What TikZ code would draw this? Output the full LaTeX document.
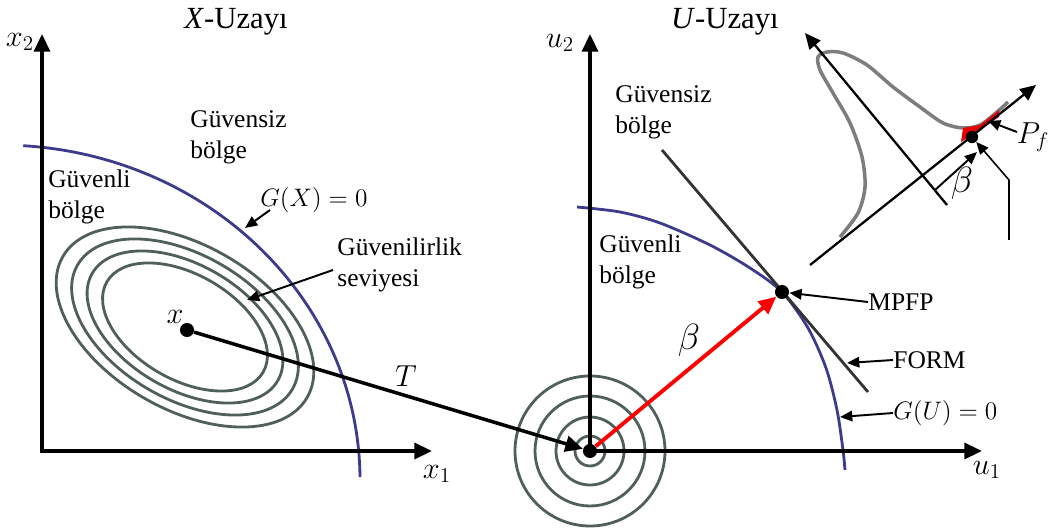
\documentclass[tikz,border=0pt]{standalone}
\usepackage{fontspec}
\setmainfont{Liberation Serif}
\usepackage{amsmath}
\usetikzlibrary{arrows.meta}
\definecolor{limitblue}{RGB}{62,58,140}
\definecolor{levelgray}{RGB}{80,95,90}
\definecolor{pdfgray}{RGB}{125,125,125}

\begin{document}
\begin{tikzpicture}[
  font=\fontsize{14.5}{17.5}\selectfont,
  axis/.style={line width=2pt,{Triangle[length=10pt,width=9pt]}-{Triangle[length=10pt,width=9pt]}},
  pointer/.style={line width=1.1pt,-{Triangle[length=7pt,width=6pt]}},
  limit/.style={line width=1.6pt,limitblue},
  level/.style={line width=1.6pt,levelgray},
  dot/.style={circle,fill=black,inner sep=0pt,minimum size=8pt},
  txt/.style={align=left,anchor=west,inner sep=0pt},
  title/.style={font=\fontsize{17.5}{20}\selectfont},
  sym/.style={font=\fontsize{17}{20}\selectfont},
  bigsym/.style={font=\fontsize{20}{24}\selectfont}
]
\useasboundingbox (0,0) rectangle (21.1,10.62);

% X-space
\coordinate (o1) at (0.84,1.6);
\foreach \s in {1,0.88,0.76,0.64}{
  \draw[level,rotate around={-30:(3.7,4.08)}] (3.7,4.08) ellipse ({2.82*\s} and {1.64*\s});
}
\draw[limit] (0.465,7.706) arc[start angle=86.3,end angle=0.5,x radius=7.2,y radius=6.7];
\draw[axis] (0.84,9.94) -- (o1) -- (8.64,1.6);
\node[sym] (x2lab) at (0.4,9.78) {$x_2$};
\node[sym] (x1lab) at (8.74,1.14) {$x_1$};
\node[title] (xtitle) at (4.72,10.18) {\textit{X}-Uzayı};
\node[txt] (unsafex) at (3.8,7.88) {Güvensiz\\bölge};
\node[txt] (safex) at (0.96,6.68) {Güvenli\\bölge};
\node[txt] (gxlab) at (5.2,6.62) {$G(X)=0$};
\draw[pointer] (5.4,6.42) -- (4.9,6.06);
\node[txt] (levlab) at (6.74,5.32) {Güvenilirlik\\seviyesi};
\draw[pointer] (6.66,5.22) -- (4.94,4.62);
\node[dot] (xc) at (3.74,4.02) {};
\node[sym] (xlab) at (3.5,4.28) {$x$};

% U-space
\node[dot] (o2) at (11.8,1.6) {};
\foreach \r in {1.5,1.1,0.68,0.3}{
  \draw[level] (o2.center) circle (\r);
}
\draw[limit] plot[smooth] coordinates {(11.54,6.48) (12.4,6.38) (13.2,6.16) (14.2,5.72) (15.0,5.26) (15.64,4.78) (16.16,4.06) (16.52,3.26) (16.74,2.42) (16.86,1.62) (16.9,1.22)};
\draw[line width=1.6pt,black!80] (13.24,7.62) -- (17.36,2.78);
\draw[axis] (11.8,9.94) -- (o2.center) -- (19.64,1.6);
\node[sym] (u2lab) at (11.2,9.76) {$u_2$};
\node[sym] (u1lab) at (19.74,1.22) {$u_1$};
\node[title] (utitle) at (14.5,10.18) {\textit{U}-Uzayı};
\node[txt] (unsafeu) at (12.3,8.38) {Güvensiz\\bölge};
\node[txt] (safeu) at (11.98,5.38) {Güvenli\\bölge};
\node[dot] (mpfp) at (15.64,4.78) {};
\draw[line width=2pt,-{Triangle[length=10pt,width=9pt]}] (xc) -- (o2);
\node[sym] (tlab) at (8.12,3.1) {$T$};
\draw[line width=2.2pt,red,-{Triangle[length=10pt,width=9pt]}] (o2) -- (mpfp);
\node[bigsym] (betalab) at (13.78,3.82) {$\beta$};
\node[txt] (mpfplab) at (17.36,4.58) {MPFP};
\draw[pointer] (mpfplab.west) -- (mpfp);
\node[txt] (formlab) at (17.86,3.42) {FORM};
\draw[pointer] (formlab.west) -- (16.94,3.36);
\node[txt] (gulab) at (17.86,2.36) {$G(U)=0$};
\draw[pointer] (gulab.west) -- (16.8,2.28);

% pdf sketch
\draw[line width=2pt,pdfgray] plot[smooth] coordinates {(16.8,5.88) (17.16,6.36) (17.3,6.88) (17.24,7.48) (17.0,8.16) (16.66,8.76) (16.4,9.22) (16.36,9.48) (16.54,9.58) (16.86,9.56) (17.34,9.32) (17.86,8.88) (18.4,8.48) (18.86,8.16) (19.26,8.06) (19.6,8.12) (19.94,8.38) (20.16,8.58)};
\fill[red!90!black] (19.22,7.78) -- (19.26,8.06) -- (19.6,8.12) -- (19.98,8.42) -- (19.98,8.28) -- cycle;
\draw[line width=1.3pt,-{Triangle[length=9pt,width=8pt]}] (16.2,5.32) -- (20.72,8.92);
\draw[line width=1.3pt,-{Triangle[length=9pt,width=8pt]}] (18.94,6.52) -- (16.1,9.96);
\node[dot,minimum size=7pt] (pf) at (19.44,7.88) {};
\draw[pointer] (18.7,6.82) -- (19.54,7.58);
\node[bigsym] (betadim) at (19.24,6.96) {$\beta$};
\draw[line width=0.9pt,-{Triangle[length=7pt,width=6pt]}] (20.18,5.82) -- (20.18,7.02) -- (pf);
\node[sym] (pflab) at (20.66,7.88) {$P_f$};
\draw[pointer] (20.34,7.98) -- (19.76,8.2);
\end{tikzpicture}
\end{document}
